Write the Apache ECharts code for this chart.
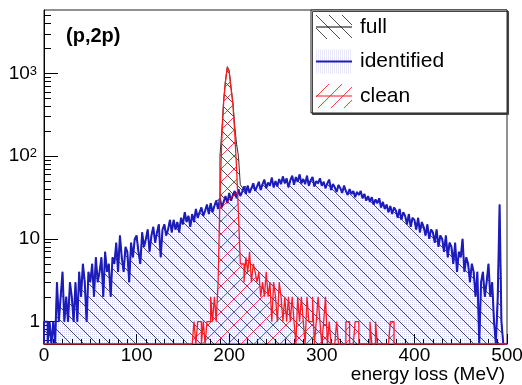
<!DOCTYPE html>
<html>
<head>
<meta charset="utf-8">
<script src="https://cdn.jsdelivr.net/npm/echarts@6/dist/echarts.min.js"></script>
<style>
  html, body { margin: 0; padding: 0; background: #fff; }
  #chart { width: 522px; height: 385px; }
</style>
</head>
<body>
<div id="chart"></div>
<script>
// ---------------- data (2 MeV bins, 0..500 MeV) ----------------
const BIN_WIDTH = 2;
const X_MIN = 0, X_MAX = 500;
const Y_MIN = 0.537, Y_MAX = 5850;
const seriesNames = ['full', 'identified', 'clean'];
const xTickLabels = [0, 100, 200, 300, 400, 500];
const yTickValues = [1, 10, 100, 1000];
const yMinorTickValues = [0.6, 0.7, 0.8, 0.9, 2, 3, 4, 5, 6, 7, 8, 9, 20, 30, 40, 50, 60, 70, 80, 90,
  200, 300, 400, 500, 600, 700, 800, 900, 2000, 3000, 4000, 5000];

const identified = [
  1,1,0,1,0, 1,0,3,1,2, 4,1,2,1,3, 2,1,3,1,4, 2,5,3,1,4,
  3,5,2,6,3, 4,6,2,7,4, 5,2,6,5,9, 4,11,6,4,8, 7,3,9,6,10,
  11,7,5,12,8, 10,13,7,11,14, 9,12,15,6,13, 15,11,13,17,12, 17,13,16,12,18,
  15,21,16,19,14, 20,16,23,18,21, 24,19,22,26,20, 27,21,25,29,23, 31,24,28,33,27,
  36,29,34,38,31, 40,33,37,43,35, 44,36,41,47,38, 43,49,39,46,52, 41,48,44,55,42,
  50,43,53,46,57, 47,54,42,51,58, 45,56,49,60,47, 53,46,58,44,51, 56,43,50,47,54,
  44,49,41,47,52, 39,46,42,37,45, 41,36,44,38,34, 40,35,38,32,37, 34,38,31,35,29,
  33,28,32,26,30, 27,31,24,28,23, 26,21,25,20,24, 22,18,23,17,21, 19,15,20,14,18,
  17,13,18,12,16, 14,11,15,10,13, 12,9,13,8,11, 10,7,11,6,9, 8,5,9,4,7,
  6,10,4,6,5, 3,5,4,2,4, 0,3,4,2,3, 5,2,3,1,0, 2,26,1,0,0
];

const full = [
  1,1,0,1,0, 1,0,3,1,2, 4,1,2,1,3, 2,1,3,1,4, 2,5,3,1,4,
  3,5,2,6,3, 4,6,2,7,4, 5,2,6,5,9, 4,11,6,4,8, 7,3,9,6,10,
  11,7,5,12,8, 10,13,7,11,14, 9,12,15,6,13, 15,11,13,17,12, 17,13,16,12,18,
  15,21,16,19,14, 20,16,23,18,21, 24,19,22,26,20, 27,21,25,29,30, 100,200,480,830,1210,
  1080,680,450,230,140, 100,45,42,43,35, 44,36,41,47,38, 43,49,39,46,52, 41,48,44,55,42,
  50,43,53,46,57, 47,54,42,51,58, 45,56,49,60,47, 53,46,58,44,51, 56,43,50,47,54,
  44,49,41,47,52, 39,46,42,37,45, 41,36,44,38,34, 40,35,38,32,37, 34,38,31,35,29,
  33,28,32,26,30, 27,31,24,28,23, 26,21,25,20,24, 22,18,23,17,21, 19,15,20,14,18,
  17,13,18,12,16, 14,11,15,10,13, 12,9,13,8,11, 10,7,11,6,9, 8,5,9,4,7,
  6,10,4,6,5, 3,5,4,2,4, 0,3,4,2,3, 5,2,3,1,0, 2,26,1,0,0
];

const clean = [
  0,0,0,0,0, 0,0,0,0,0, 0,0,0,0,0, 0,0,0,0,0, 0,0,0,0,0,
  0,0,0,0,0, 0,0,0,0,0, 0,0,0,0,0, 0,0,0,0,0, 0,0,0,0,0,
  0,0,0,0,0, 0,0,0,0,0, 0,0,0,0,0, 0,0,0,0,0, 0,0,0,0,0,
  0,0,0,0,0, 0,1,0,1,1, 0,1,0,1,1, 2,1,2,1,3, 30,160,450,800,1180,
  1050,650,420,190,70, 20,5,5,3,6, 4,7,3,5,4, 3,4,2,3,2, 4,2,3,1,3,
  2,1,3,2,1, 2,1,2,1,2, 1,0,2,1,2, 1,0,2,1,1, 2,0,1,2,1,
  0,1,2,0,1, 0,0,0,1,0, 0,0,0,1,1, 0,0,0,1,1, 0,0,0,0,0,
  0,1,0,0,1, 0,0,0,0,0, 0,0,1,1,0, 0,0,0,0,0, 0,0,0,0,0,
  0,0,0,0,0, 0,0,0,0,0, 0,0,0,0,0, 0,0,0,0,0, 0,0,0,0,0,
  0,0,0,0,0, 0,0,0,0,0, 0,0,0,0,0, 0,0,0,0,0, 0,0,0,0,0
];

// ---------------- helpers ----------------
const FONT = 'Liberation Sans, Arial, Helvetica, sans-serif';
const BLUE = '#1c1cbc';
const RED = '#ff1a1a';
const BLACK = '#333';
// log scale: plotted value = log10(count / Y_MIN), so the frame bottom is 0
const toLog = v => Math.log10(v / Y_MIN);
const LOG_TOP = toLog(Y_MAX);

function hatch(color, dir, lw) {
  const s = 13;
  const c = document.createElement('canvas');
  c.width = s; c.height = s;
  const g = c.getContext('2d');
  g.strokeStyle = color; g.lineWidth = lw;
  for (const k of [-s, 0, s]) {
    g.beginPath();
    if (dir === 'down') { g.moveTo(k, 0); g.lineTo(k + s, s); }
    else { g.moveTo(k, s); g.lineTo(k + s, 0); }
    g.stroke();
  }
  return { image: c, repeat: 'repeat' };
}
function dots(color) {
  const c = document.createElement('canvas');
  c.width = 2; c.height = 2;
  const g = c.getContext('2d');
  g.fillStyle = color; g.fillRect(0, 0, 1, 1);
  return { image: c, repeat: 'repeat' };
}
const fullPat = hatch('rgba(0,0,0,0.7)', 'down', 1);
const identPat = dots('rgba(50,50,200,0.22)');
const cleanPat = hatch('rgba(255,0,0,0.75)', 'up', 1);

// histogram -> step points (empty bins drawn down to the frame bottom)
function histPoints(counts) {
  const toY = v => (v > 0 ? toLog(v) : 0);
  const pts = [[X_MIN, 0]];
  counts.forEach((v, i) => pts.push([X_MIN + i * BIN_WIDTH, toY(v)]));
  pts.push([X_MIN + counts.length * BIN_WIDTH, toY(counts[counts.length - 1])]);
  pts.push([X_MIN + counts.length * BIN_WIDTH, 0]);
  return pts;
}

function histSeries(name, counts, color, width, pattern, z) {
  return {
    name, type: 'line', step: 'end', data: histPoints(counts),
    symbol: 'none', showSymbol: false, silent: true, z,
    lineStyle: { color, width },
    itemStyle: { color },
    areaStyle: { color: pattern, opacity: 1 },
    emphasis: { disabled: true }
  };
}

const LINE1 = 'path://M0,0M36,24M0,11.5H36V12.5H0Z';
const LINE2 = 'path://M0,0M36,24M0,11H36V13H0Z';
const legendBase = {
  orient: 'vertical', left: 311, top: 10,
  itemWidth: 36, itemHeight: 24, itemGap: 10.5, selectedMode: false
};

const chart = echarts.init(document.getElementById('chart'), null, { renderer: 'canvas' });
chart.setOption({
  animation: false,
  backgroundColor: '#fff',
  title: {
    text: '(p,2p)', left: 66, top: 26, padding: 0,
    textStyle: { fontFamily: FONT, fontWeight: 'bold', fontSize: 20, color: '#000' }
  },
  legend: [
    // box, text
    Object.assign({}, legendBase, {
      padding: [5, 63, 5, 5], z: 4,
      borderColor: '#222', borderWidth: 1, backgroundColor: '#fff',
      shadowColor: '#444', shadowOffsetX: 1.5, shadowOffsetY: 1.5, shadowBlur: 0,
      textStyle: { fontFamily: FONT, fontSize: 21, color: '#000', padding: [0, 0, 0, 3] },
      data: seriesNames.map(n => ({ name: n, icon: 'rect', itemStyle: { color: 'rgba(0,0,0,0)', borderWidth: 0 } }))
    }),
    // fill patterns
    Object.assign({}, legendBase, {
      padding: [5, 5, 5, 5], z: 5,
      formatter: () => ' ',
      textStyle: { fontFamily: FONT, fontSize: 21 },
      data: [
        { name: 'full', icon: 'rect', itemStyle: { color: fullPat, borderWidth: 0 } },
        { name: 'identified', icon: 'rect', itemStyle: { color: identPat, borderWidth: 0 } },
        { name: 'clean', icon: 'rect', itemStyle: { color: cleanPat, borderWidth: 0 } }
      ]
    }),
    // line styles
    Object.assign({}, legendBase, {
      padding: [5, 5, 5, 5], z: 6,
      formatter: () => ' ',
      textStyle: { fontFamily: FONT, fontSize: 21 },
      data: [
        { name: 'full', icon: LINE1, itemStyle: { color: '#000', borderWidth: 0 } },
        { name: 'identified', icon: LINE2, itemStyle: { color: BLUE, borderWidth: 0 } },
        { name: 'clean', icon: LINE1, itemStyle: { color: RED, borderWidth: 0 } }
      ]
    })
  ],
  grid: {
    left: 44, right: 15, top: 10, bottom: 41, show: true,
    borderColor: '#222', borderWidth: 1, backgroundColor: 'transparent',
    outerBoundsMode: 'none'
  },
  xAxis: {
    type: 'value', min: X_MIN, max: X_MAX, interval: 100,
    axisLine: { onZero: false, lineStyle: { color: '#000', width: 1 } },
    axisTick: { inside: true, length: 10, lineStyle: { color: '#000' } },
    minorTick: { show: true, splitNumber: 10, length: 5, lineStyle: { color: '#000' } },
    splitLine: { show: false }, minorSplitLine: { show: false },
    axisLabel: {
      fontFamily: FONT, fontSize: 19, color: '#000', margin: 2,
      customValues: xTickLabels
    },
    name: 'energy loss (MeV)', nameLocation: 'end', nameGap: -2, nameMoveOverlap: false,
    nameTextStyle: { fontFamily: FONT, fontSize: 19, color: '#000', align: 'right', verticalAlign: 'top', lineHeight: 62 }
  },
  yAxis: [
    {
      type: 'value', min: 0, max: LOG_TOP, position: 'left',
      axisLine: { onZero: false, lineStyle: { color: '#000', width: 1 } },
      axisTick: { inside: true, length: 14, lineStyle: { color: '#000' }, customValues: yTickValues.map(toLog) },
      splitLine: { show: false },
      axisLabel: {
        fontFamily: FONT, fontSize: 19, color: '#000', margin: 4,
        customValues: yTickValues.map(toLog),
        formatter: v => { const e = Math.round(v + Math.log10(Y_MIN)); return e === 0 ? '1' : e === 1 ? '10' : '10{sup|' + e + '}'; },
        rich: { sup: { fontFamily: FONT, fontSize: 13, color: '#000', padding: [0, 3, 5, 0] } }
      }
    },
    {
      type: 'value', min: 0, max: LOG_TOP, position: 'left',
      axisLine: { show: false },
      axisTick: { inside: true, length: 7, lineStyle: { color: '#000' }, customValues: yMinorTickValues.map(toLog) },
      axisLabel: { show: false },
      splitLine: { show: false }
    }
  ],
  series: [
    histSeries('full', full, BLACK, 1, fullPat, 2),
    histSeries('identified', identified, BLUE, 2, identPat, 3),
    histSeries('clean', clean, RED, 1.3, cleanPat, 4)
  ]
});
</script>
</body>
</html>
